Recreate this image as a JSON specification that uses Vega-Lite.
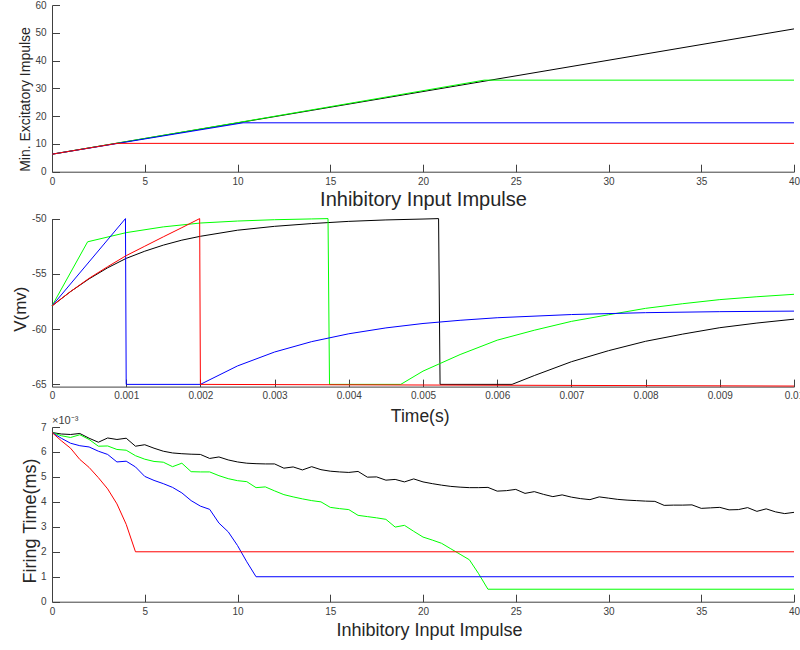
{
  "$schema": "https://vega.github.io/schema/vega-lite/v6.json",
  "background": "white",
  "padding": {"left": 11, "top": 0, "right": 0, "bottom": 0},
  "spacing": 40,
  "bounds": "flush",
  "config": {
    "font": "Liberation Sans",
    "view": {"stroke": null},
    "axis": {
      "grid": false,
      "domainColor": "#404040",
      "tickColor": "#404040",
      "tickSize": -7.5,
      "labelColor": "#404040",
      "labelFontSize": 10,
      "labelFont": "Liberation Sans",
      "titleFont": "Liberation Sans",
      "titleColor": "#262626",
      "titleFontWeight": "normal",
      "labelFlush": false,
      "labelOverlap": false
    },
    "axisY": {"labelPadding": 13.5, "titleBaseline": "middle", "titleAlign": "center", "titleAngle": -90},
    "axisX": {"titleBaseline": "middle", "titleAlign": "center"},
    "line": {"strokeWidth": 1}
  },
  "datasets": {
    "top": [
      {"x": 0, "y": 6.3, "s": "k"}, {"x": 40, "y": 51.4, "s": "k"},
      {"x": 0, "y": 6.3, "s": "g"}, {"x": 10, "y": 17.65, "s": "g"}, {"x": 23.3, "y": 32.95, "s": "g"}, {"x": 40, "y": 32.95, "s": "g"},
      {"x": 0, "y": 6.3, "s": "b"}, {"x": 10.3, "y": 17.6, "s": "b"}, {"x": 40, "y": 17.6, "s": "b"},
      {"x": 0, "y": 6.3, "s": "r"}, {"x": 3.5, "y": 10.2, "s": "r"}, {"x": 40, "y": 10.2, "s": "r"}
    ],
    "mid": [
      {"x": 0, "y": -57.9, "s": "k"}, {"x": 0.00025, "y": -56.6, "s": "k"}, {"x": 0.0005, "y": -55.45, "s": "k"}, {"x": 0.00075, "y": -54.45, "s": "k"},
      {"x": 0.001, "y": -53.6, "s": "k"}, {"x": 0.00125, "y": -52.95, "s": "k"}, {"x": 0.0015, "y": -52.4, "s": "k"}, {"x": 0.00175, "y": -51.95, "s": "k"},
      {"x": 0.002, "y": -51.6, "s": "k"}, {"x": 0.0025, "y": -51.05, "s": "k"}, {"x": 0.003, "y": -50.7, "s": "k"}, {"x": 0.0035, "y": -50.45, "s": "k"},
      {"x": 0.004, "y": -50.25, "s": "k"}, {"x": 0.0045, "y": -50.12, "s": "k"}, {"x": 0.005, "y": -50.04, "s": "k"}, {"x": 0.00521, "y": -50.0, "s": "k"},
      {"x": 0.00523, "y": -65.0, "s": "k"}, {"x": 0.0062, "y": -65.0, "s": "k"}, {"x": 0.0065, "y": -64.2, "s": "k"}, {"x": 0.007, "y": -62.95, "s": "k"},
      {"x": 0.0075, "y": -61.95, "s": "k"}, {"x": 0.008, "y": -61.1, "s": "k"}, {"x": 0.0085, "y": -60.45, "s": "k"}, {"x": 0.009, "y": -59.87, "s": "k"},
      {"x": 0.0095, "y": -59.45, "s": "k"}, {"x": 0.01, "y": -59.1, "s": "k"},
      {"x": 0, "y": -57.9, "s": "g"}, {"x": 0.00048, "y": -52.1, "s": "g"}, {"x": 0.001, "y": -51.27, "s": "g"}, {"x": 0.0015, "y": -50.75, "s": "g"},
      {"x": 0.002, "y": -50.4, "s": "g"}, {"x": 0.0025, "y": -50.22, "s": "g"}, {"x": 0.003, "y": -50.1, "s": "g"}, {"x": 0.0035, "y": -50.03, "s": "g"},
      {"x": 0.00372, "y": -50.0, "s": "g"}, {"x": 0.00374, "y": -65.0, "s": "g"}, {"x": 0.0047, "y": -65.0, "s": "g"}, {"x": 0.005, "y": -63.8, "s": "g"},
      {"x": 0.0055, "y": -62.3, "s": "g"}, {"x": 0.006, "y": -61.0, "s": "g"}, {"x": 0.0065, "y": -60.1, "s": "g"}, {"x": 0.007, "y": -59.3, "s": "g"},
      {"x": 0.0075, "y": -58.7, "s": "g"}, {"x": 0.008, "y": -58.12, "s": "g"}, {"x": 0.0085, "y": -57.7, "s": "g"}, {"x": 0.009, "y": -57.33, "s": "g"},
      {"x": 0.0095, "y": -57.07, "s": "g"}, {"x": 0.01, "y": -56.85, "s": "g"},
      {"x": 0, "y": -57.9, "s": "b"}, {"x": 0.00099, "y": -50.0, "s": "b"}, {"x": 0.001, "y": -65.0, "s": "b"}, {"x": 0.002, "y": -65.0, "s": "b"},
      {"x": 0.0025, "y": -63.33, "s": "b"}, {"x": 0.003, "y": -62.07, "s": "b"}, {"x": 0.0035, "y": -61.13, "s": "b"}, {"x": 0.004, "y": -60.42, "s": "b"},
      {"x": 0.0045, "y": -59.89, "s": "b"}, {"x": 0.005, "y": -59.49, "s": "b"}, {"x": 0.0055, "y": -59.2, "s": "b"}, {"x": 0.006, "y": -58.97, "s": "b"},
      {"x": 0.007, "y": -58.68, "s": "b"}, {"x": 0.008, "y": -58.51, "s": "b"}, {"x": 0.009, "y": -58.42, "s": "b"}, {"x": 0.01, "y": -58.37, "s": "b"},
      {"x": 0, "y": -57.9, "s": "r"}, {"x": 0.00025, "y": -56.6, "s": "r"}, {"x": 0.0005, "y": -55.4, "s": "r"}, {"x": 0.00075, "y": -54.35, "s": "r"},
      {"x": 0.001, "y": -53.35, "s": "r"}, {"x": 0.00125, "y": -52.5, "s": "r"}, {"x": 0.0015, "y": -51.65, "s": "r"}, {"x": 0.00175, "y": -50.82, "s": "r"},
      {"x": 0.00199, "y": -50.0, "s": "r"}, {"x": 0.002, "y": -65.0, "s": "r"}, {"x": 0.01, "y": -65.15, "s": "r"}
    ],
    "bot": [
      {"x": 0, "y": 0.00678, "s": "k"}, {"x": 0.5, "y": 0.00672, "s": "k"}, {"x": 1, "y": 0.0067, "s": "k"}, {"x": 1.5, "y": 0.00674, "s": "k"},
      {"x": 2, "y": 0.00655, "s": "k"}, {"x": 2.5, "y": 0.00639, "s": "k"}, {"x": 3, "y": 0.00656, "s": "k"}, {"x": 3.5, "y": 0.0065, "s": "k"},
      {"x": 4, "y": 0.00655, "s": "k"}, {"x": 4.5, "y": 0.00623, "s": "k"}, {"x": 5, "y": 0.00629, "s": "k"}, {"x": 5.5, "y": 0.00615, "s": "k"},
      {"x": 6, "y": 0.00603, "s": "k"}, {"x": 6.5, "y": 0.00596, "s": "k"}, {"x": 7, "y": 0.00593, "s": "k"}, {"x": 7.5, "y": 0.00591, "s": "k"},
      {"x": 8, "y": 0.0059, "s": "k"}, {"x": 8.5, "y": 0.00574, "s": "k"}, {"x": 9, "y": 0.0058, "s": "k"}, {"x": 9.5, "y": 0.00568, "s": "k"},
      {"x": 10, "y": 0.0056, "s": "k"}, {"x": 10.5, "y": 0.00555, "s": "k"}, {"x": 11, "y": 0.00553, "s": "k"}, {"x": 11.5, "y": 0.00552, "s": "k"},
      {"x": 12, "y": 0.00552, "s": "k"}, {"x": 12.5, "y": 0.00535, "s": "k"}, {"x": 13, "y": 0.0054, "s": "k"}, {"x": 13.5, "y": 0.00528, "s": "k"},
      {"x": 14, "y": 0.00541, "s": "k"}, {"x": 14.5, "y": 0.00529, "s": "k"}, {"x": 15, "y": 0.00523, "s": "k"}, {"x": 15.5, "y": 0.0052, "s": "k"},
      {"x": 16, "y": 0.00518, "s": "k"}, {"x": 16.5, "y": 0.00522, "s": "k"}, {"x": 17, "y": 0.00499, "s": "k"}, {"x": 17.5, "y": 0.005, "s": "k"},
      {"x": 18, "y": 0.00487, "s": "k"}, {"x": 18.5, "y": 0.0049, "s": "k"}, {"x": 19, "y": 0.0048, "s": "k"}, {"x": 19.5, "y": 0.00492, "s": "k"},
      {"x": 20, "y": 0.0048, "s": "k"}, {"x": 20.5, "y": 0.00473, "s": "k"}, {"x": 21, "y": 0.00467, "s": "k"}, {"x": 21.5, "y": 0.00462, "s": "k"},
      {"x": 22, "y": 0.00459, "s": "k"}, {"x": 22.5, "y": 0.00457, "s": "k"}, {"x": 23, "y": 0.00457, "s": "k"}, {"x": 23.5, "y": 0.00458, "s": "k"},
      {"x": 24, "y": 0.00443, "s": "k"}, {"x": 24.5, "y": 0.00445, "s": "k"}, {"x": 25, "y": 0.0045, "s": "k"}, {"x": 25.5, "y": 0.00434, "s": "k"},
      {"x": 26, "y": 0.00441, "s": "k"}, {"x": 26.5, "y": 0.0043, "s": "k"}, {"x": 27, "y": 0.00421, "s": "k"}, {"x": 27.5, "y": 0.00428, "s": "k"},
      {"x": 28, "y": 0.00419, "s": "k"}, {"x": 28.5, "y": 0.00413, "s": "k"}, {"x": 29, "y": 0.00409, "s": "k"}, {"x": 29.5, "y": 0.0042, "s": "k"},
      {"x": 30, "y": 0.00415, "s": "k"}, {"x": 30.5, "y": 0.0041, "s": "k"}, {"x": 31, "y": 0.00407, "s": "k"}, {"x": 31.5, "y": 0.00405, "s": "k"},
      {"x": 32, "y": 0.00403, "s": "k"}, {"x": 32.5, "y": 0.00402, "s": "k"}, {"x": 33, "y": 0.00386, "s": "k"}, {"x": 33.5, "y": 0.00387, "s": "k"},
      {"x": 34, "y": 0.00387, "s": "k"}, {"x": 34.5, "y": 0.00388, "s": "k"}, {"x": 35, "y": 0.00374, "s": "k"}, {"x": 35.5, "y": 0.00376, "s": "k"},
      {"x": 36, "y": 0.00378, "s": "k"}, {"x": 36.5, "y": 0.00368, "s": "k"}, {"x": 37, "y": 0.00369, "s": "k"}, {"x": 37.5, "y": 0.00377, "s": "k"},
      {"x": 38, "y": 0.00362, "s": "k"}, {"x": 38.5, "y": 0.00372, "s": "k"}, {"x": 39, "y": 0.0036, "s": "k"}, {"x": 39.5, "y": 0.00353, "s": "k"},
      {"x": 40, "y": 0.00358, "s": "k"},
      {"x": 0, "y": 0.00678, "s": "g"}, {"x": 0.5, "y": 0.00665, "s": "g"}, {"x": 1, "y": 0.00658, "s": "g"}, {"x": 1.5, "y": 0.00669, "s": "g"},
      {"x": 2, "y": 0.0065, "s": "g"}, {"x": 2.5, "y": 0.00623, "s": "g"}, {"x": 3, "y": 0.00624, "s": "g"}, {"x": 3.5, "y": 0.0061, "s": "g"},
      {"x": 4, "y": 0.00607, "s": "g"}, {"x": 4.5, "y": 0.00585, "s": "g"}, {"x": 5, "y": 0.00571, "s": "g"}, {"x": 5.5, "y": 0.00562, "s": "g"},
      {"x": 6, "y": 0.00559, "s": "g"}, {"x": 6.5, "y": 0.00541, "s": "g"}, {"x": 7, "y": 0.00555, "s": "g"}, {"x": 7.5, "y": 0.00521, "s": "g"},
      {"x": 8, "y": 0.0052, "s": "g"}, {"x": 8.5, "y": 0.0052, "s": "g"}, {"x": 9, "y": 0.00505, "s": "g"}, {"x": 9.5, "y": 0.00493, "s": "g"},
      {"x": 10, "y": 0.00485, "s": "g"}, {"x": 10.5, "y": 0.00481, "s": "g"}, {"x": 11, "y": 0.00457, "s": "g"}, {"x": 11.5, "y": 0.0046, "s": "g"},
      {"x": 12, "y": 0.00444, "s": "g"}, {"x": 12.5, "y": 0.00429, "s": "g"}, {"x": 13, "y": 0.0042, "s": "g"}, {"x": 13.5, "y": 0.00412, "s": "g"},
      {"x": 14, "y": 0.00405, "s": "g"}, {"x": 14.5, "y": 0.004, "s": "g"}, {"x": 15, "y": 0.00378, "s": "g"}, {"x": 15.5, "y": 0.00373, "s": "g"},
      {"x": 16, "y": 0.00369, "s": "g"}, {"x": 16.5, "y": 0.00346, "s": "g"}, {"x": 17, "y": 0.00341, "s": "g"}, {"x": 17.5, "y": 0.00336, "s": "g"},
      {"x": 18, "y": 0.0033, "s": "g"}, {"x": 18.5, "y": 0.00299, "s": "g"}, {"x": 19, "y": 0.00306, "s": "g"}, {"x": 19.5, "y": 0.00282, "s": "g"},
      {"x": 20, "y": 0.00259, "s": "g"}, {"x": 20.5, "y": 0.00247, "s": "g"}, {"x": 21, "y": 0.00234, "s": "g"}, {"x": 21.5, "y": 0.00212, "s": "g"},
      {"x": 22, "y": 0.0019, "s": "g"}, {"x": 22.5, "y": 0.00168, "s": "g"}, {"x": 23, "y": 0.00112, "s": "g"}, {"x": 23.5, "y": 0.0005, "s": "g"},
      {"x": 40, "y": 0.0005, "s": "g"},
      {"x": 0, "y": 0.00678, "s": "b"}, {"x": 0.5, "y": 0.00655, "s": "b"}, {"x": 1, "y": 0.00635, "s": "b"}, {"x": 1.5, "y": 0.00625, "s": "b"},
      {"x": 2, "y": 0.0062, "s": "b"}, {"x": 2.5, "y": 0.00603, "s": "b"}, {"x": 3, "y": 0.0059, "s": "b"}, {"x": 3.5, "y": 0.0056, "s": "b"},
      {"x": 4, "y": 0.00563, "s": "b"}, {"x": 4.5, "y": 0.0054, "s": "b"}, {"x": 5, "y": 0.00502, "s": "b"}, {"x": 5.5, "y": 0.00486, "s": "b"},
      {"x": 6, "y": 0.00473, "s": "b"}, {"x": 6.5, "y": 0.00458, "s": "b"}, {"x": 7, "y": 0.00436, "s": "b"}, {"x": 7.5, "y": 0.00405, "s": "b"},
      {"x": 8, "y": 0.00383, "s": "b"}, {"x": 8.5, "y": 0.0037, "s": "b"}, {"x": 9, "y": 0.00315, "s": "b"}, {"x": 9.5, "y": 0.0028, "s": "b"},
      {"x": 10, "y": 0.00225, "s": "b"}, {"x": 10.5, "y": 0.0016, "s": "b"}, {"x": 11, "y": 0.001, "s": "b"}, {"x": 40, "y": 0.001, "s": "b"},
      {"x": 0, "y": 0.00678, "s": "r"}, {"x": 0.5, "y": 0.00645, "s": "r"}, {"x": 1, "y": 0.00615, "s": "r"}, {"x": 1.5, "y": 0.0057, "s": "r"},
      {"x": 2, "y": 0.00538, "s": "r"}, {"x": 2.5, "y": 0.00497, "s": "r"}, {"x": 3, "y": 0.00452, "s": "r"}, {"x": 3.5, "y": 0.00392, "s": "r"},
      {"x": 4, "y": 0.0031, "s": "r"}, {"x": 4.5, "y": 0.002, "s": "r"}, {"x": 40, "y": 0.002, "s": "r"}
    ]
  },
  "vconcat": [
    {
      "width": 742, "height": 166.7,
      "data": {"name": "top"},
      "mark": {"type": "line", "strokeWidth": 1},
      "encoding": {
        "x": {"field": "x", "type": "quantitative", "scale": {"domain": [0, 40], "nice": false},
              "axis": {"values": [0, 5, 10, 15, 20, 25, 30, 35, 40], "title": "Inhibitory Input Impulse", "titleFontSize": 20, "labelPadding": 12.5, "titleX": 371, "titleY": 27.5}},
        "y": {"field": "y", "type": "quantitative", "scale": {"domain": [0, 60], "nice": false},
              "axis": {"values": [0, 10, 20, 30, 40, 50, 60], "title": "Min. Excitatory Impulse", "titleFontSize": 14, "titleX": -26.5, "titleY": 94}},
        "color": {"field": "s", "type": "nominal", "sort": null, "scale": {"domain": ["k", "g", "b", "r"], "range": ["#000000", "#00ff00", "#0000ff", "#ff0000"]}, "legend": null}
      }
    },
    {
      "width": 742, "height": 174.6,
      "data": {"name": "mid"},
      "mark": {"type": "line", "strokeWidth": 1},
      "encoding": {
        "x": {"field": "x", "type": "quantitative", "scale": {"domain": [0, 0.01], "nice": false},
              "axis": {"values": [0, 0.001, 0.002, 0.003, 0.004, 0.005, 0.006, 0.007, 0.008, 0.009, 0.01], "labelExpr": "'' + datum.value", "title": "Time(s)", "titleFontSize": 17.5, "labelPadding": 11.5, "titleX": 367.7, "titleY": 30}},
        "y": {"field": "y", "type": "quantitative", "scale": {"domain": [-65.2, -50], "nice": false, "zero": false, "range": [174.6, 6.6]},
              "axis": {"values": [-65, -60, -55, -50], "labelExpr": "'' + datum.value", "title": "V(mv)", "titleFontSize": 17, "titleX": -32, "titleY": 96.7}},
        "color": {"field": "s", "type": "nominal", "sort": null, "scale": {"domain": ["k", "g", "b", "r"], "range": ["#000000", "#00ff00", "#0000ff", "#ff0000"]}, "legend": null}
      }
    },
    {
      "width": 742, "height": 174.7,
      "title": {"text": "×10⁻³", "anchor": "start", "frame": "group", "fontSize": 11, "fontWeight": "normal", "color": "#404040", "offset": -4},
      "data": {"name": "bot"},
      "mark": {"type": "line", "strokeWidth": 1},
      "encoding": {
        "x": {"field": "x", "type": "quantitative", "scale": {"domain": [0, 40], "nice": false},
              "axis": {"values": [0, 5, 10, 15, 20, 25, 30, 35, 40], "title": "Inhibitory Input Impulse", "titleFontSize": 18, "labelPadding": 12.5, "titleX": 377, "titleY": 28.5}},
        "y": {"field": "y", "type": "quantitative", "scale": {"domain": [0, 0.007], "nice": false},
              "axis": {"values": [0, 0.001, 0.002, 0.003, 0.004, 0.005, 0.006, 0.007], "labelExpr": "'' + round(datum.value * 1000)", "title": "Firing Time(ms)", "titleFontSize": 18, "titleX": -22, "titleY": 93.5}},
        "color": {"field": "s", "type": "nominal", "sort": null, "scale": {"domain": ["k", "g", "b", "r"], "range": ["#000000", "#00ff00", "#0000ff", "#ff0000"]}, "legend": null}
      }
    }
  ]
}
